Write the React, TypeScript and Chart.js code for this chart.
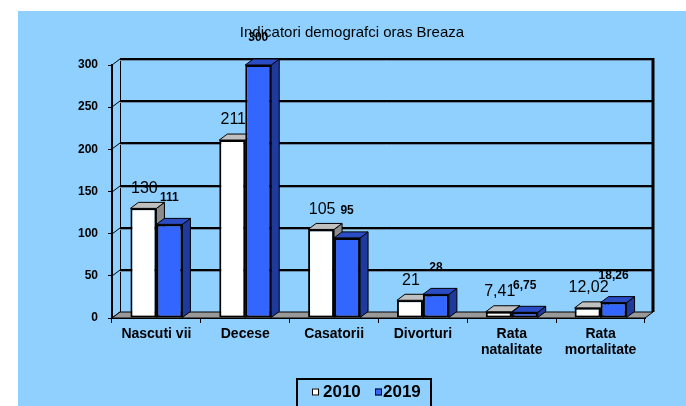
import React, { useEffect, useRef } from "react";
import { Chart, registerables } from "chart.js";

Chart.register(...registerables);

// ---- data ----
const categories: (string | string[])[] = [
  "Nascuti vii",
  "Decese",
  "Casatorii",
  "Divorturi",
  ["Rata", "natalitate"],
  ["Rata", "mortalitate"],
];
const series2010 = [130, 211, 105, 21, 7.41, 12.02];
const series2019 = [111, 300, 95, 28, 6.75, 18.26];
const seriesLabels = ["2010", "2019"];
const yMin = 0;
const yMax = 300;
const yStep = 50;
const titleText = "Indicatori demografci oras Breaza";

// ---- style ----
const FONT = "Arial, 'Liberation Sans', sans-serif";
const DX = 8;
const DY = 6;
const frontColors = ["#FFFFFF", "#3366FF"];
const faceColors = [
  { top: "#C0C0C0", side: "#8C8C8C" },
  { top: "#2A4CC4", side: "#1E3A9C" },
];

const fmt = (v: number) => String(v).replace(".", ",");

const threeD = {
  id: "threeD",
  beforeDatasetsDraw(chart: any) {
    const { ctx, chartArea: a, scales } = chart;
    const y = scales.y;
    ctx.save();
    const line = (x1: number, y1: number, x2: number, y2: number) => {
      ctx.beginPath();
      ctx.moveTo(x1, y1);
      ctx.lineTo(x2, y2);
      ctx.stroke();
    };
    // back edge of left wall
    ctx.strokeStyle = "#000";
    ctx.lineWidth = 1;
    line(a.left + DX + 0.5, a.top - DY, a.left + DX + 0.5, a.bottom - DY);
    // grid lines on back wall
    for (let v = yMin; v <= yMax; v += yStep) {
      const py = Math.round(y.getPixelForValue(v));
      ctx.strokeStyle = "#000";
      ctx.lineWidth = 1;
      line(a.left, py, a.left + DX, py - DY);
      if (v > yMin) {
        ctx.strokeStyle = "#6E8CA8";
        ctx.lineWidth = 1;
        line(a.left + DX, py - DY + 1.5, a.right + DX, py - DY + 1.5);
        ctx.strokeStyle = "#000";
        ctx.lineWidth = 2;
        line(a.left + DX, py - DY, a.right + DX, py - DY);
      }
    }
    // right edge of back wall
    ctx.strokeStyle = "#000";
    ctx.lineWidth = 3;
    line(a.right + DX, a.top - DY - 1, a.right + DX, a.bottom - DY);
    // floor
    ctx.beginPath();
    ctx.moveTo(a.left, a.bottom);
    ctx.lineTo(a.right, a.bottom);
    ctx.lineTo(a.right + DX, a.bottom - DY);
    ctx.lineTo(a.left + DX, a.bottom - DY);
    ctx.closePath();
    ctx.fillStyle = "#999999";
    ctx.fill();
    ctx.lineWidth = 1;
    ctx.strokeStyle = "#000";
    ctx.stroke();
    // bar depth faces
    const n = chart.data.labels.length;
    for (let j = 0; j < n; j++) {
      for (let i = 0; i < chart.data.datasets.length; i++) {
        const el = chart.getDatasetMeta(i).data[j];
        if (!el) continue;
        const p = el.getProps(["x", "y", "base", "width"], true);
        const l = p.x - p.width / 2;
        const r = p.x + p.width / 2;
        const t = p.y;
        const b = p.base;
        ctx.lineWidth = 1;
        ctx.strokeStyle = "#000";
        // side
        ctx.beginPath();
        ctx.moveTo(r, t);
        ctx.lineTo(r + DX, t - DY);
        ctx.lineTo(r + DX, b - DY);
        ctx.lineTo(r, b);
        ctx.closePath();
        ctx.fillStyle = faceColors[i].side;
        ctx.fill();
        ctx.stroke();
        // top
        ctx.beginPath();
        ctx.moveTo(l, t);
        ctx.lineTo(l + DX, t - DY);
        ctx.lineTo(r + DX, t - DY);
        ctx.lineTo(r, t);
        ctx.closePath();
        ctx.fillStyle = faceColors[i].top;
        ctx.fill();
        ctx.stroke();
      }
    }
    ctx.restore();
  },
  afterDatasetsDraw(chart: any) {
    const { ctx } = chart;
    ctx.save();
    ctx.fillStyle = "#000";
    ctx.textAlign = "center";
    ctx.textBaseline = "middle";
    chart.data.datasets.forEach((ds: any, i: number) => {
      const meta = chart.getDatasetMeta(i);
      meta.data.forEach((el: any, j: number) => {
        const p = el.getProps(["x", "y"], true);
        if (i === 0) {
          ctx.font = `16px ${FONT}`;
          ctx.fillText(fmt(ds.data[j]), p.x + 1, p.y - 20);
        } else {
          ctx.font = `bold 12px ${FONT}`;
          ctx.fillText(fmt(ds.data[j]), p.x, p.y - 27);
        }
      });
    });
    ctx.restore();
  },
  afterDraw(chart: any) {
    const { ctx } = chart;
    ctx.save();
    // title, centred on the whole chart background
    ctx.fillStyle = "#000";
    ctx.font = `15px ${FONT}`;
    ctx.textAlign = "center";
    ctx.textBaseline = "middle";
    ctx.fillText(titleText, chart.width / 2, 22);
    // legend frame
    ctx.strokeStyle = "#000";
    ctx.lineWidth = 2;
    ctx.strokeRect(279, 368, 134, 40);
    const items = [
      { bx: 294, tx: 305 },
      { bx: 357, tx: 365 },
    ];
    ctx.font = `bold 17px ${FONT}`;
    ctx.textBaseline = "middle";
    ctx.textAlign = "left";
    chart.data.datasets.forEach((ds: any, i: number) => {
      const it = items[i];
      ctx.fillStyle = ds.backgroundColor;
      ctx.fillRect(it.bx, 377.5, 7, 7);
      ctx.lineWidth = 1;
      ctx.strokeStyle = "#000";
      ctx.strokeRect(it.bx + 0.5, 377.5 + 0.5, 6, 6);
      ctx.fillStyle = "#000";
      ctx.fillText(ds.label, it.tx, 381);
    });
    ctx.restore();
  },
};

export default function App() {
  const ref = useRef<HTMLCanvasElement>(null);
  useEffect(() => {
    const chart = new Chart(ref.current as HTMLCanvasElement, {
      type: "bar",
      data: {
        labels: categories as any,
        datasets: [
          {
            label: seriesLabels[0],
            data: series2010,
            backgroundColor: frontColors[0],
            borderColor: "#000",
            borderWidth: 2,
            borderSkipped: false,
            categoryPercentage: 0.585,
            barPercentage: 1,
          },
          {
            label: seriesLabels[1],
            data: series2019,
            backgroundColor: frontColors[1],
            borderColor: "#000",
            borderWidth: 2,
            borderSkipped: false,
            categoryPercentage: 0.585,
            barPercentage: 1,
          },
        ],
      },
      options: {
        responsive: false,
        animation: false,
        layout: { padding: { left: 0, right: 41, top: 54, bottom: 38 } },
        plugins: {
          legend: { display: false },
          tooltip: { enabled: false },
          title: { display: false },
        },
        scales: {
          x: {
            grid: { drawOnChartArea: false, drawTicks: true, tickLength: 5, color: "#000", offset: true },
            border: { display: true, color: "#000", width: 2 },
            ticks: {
              color: "#000",
              font: { family: FONT, size: 14, weight: "bold", lineHeight: 1.15 },
              padding: 3,
              maxRotation: 0,
              autoSkip: false,
            },
            afterFit: (s: any) => {
              s.height = 50;
            },
          },
          y: {
            min: yMin,
            max: yMax,
            grid: { drawOnChartArea: false, drawTicks: true, tickLength: 4, color: "#000" },
            border: { display: true, color: "#000", width: 2 },
            ticks: {
              stepSize: yStep,
              color: "#000",
              font: { family: FONT, size: 12, weight: "bold" },
              padding: 10,
            },
            afterFit: (s: any) => {
              s.width = 94;
            },
          },
        },
      },
      plugins: [threeD],
    });
    return () => chart.destroy();
  }, []);
  return (
    <div style={{ position: "absolute", left: 0, top: 0, width: 686, height: 406, background: "#fff", overflow: "hidden" }}>
      <div style={{ position: "absolute", left: 18, top: 11, width: 668, height: 395, background: "#8FD0FF" }}>
        <canvas ref={ref} width={668} height={395} style={{ display: "block", width: 668, height: 395 }} />
      </div>
    </div>
  );
}
